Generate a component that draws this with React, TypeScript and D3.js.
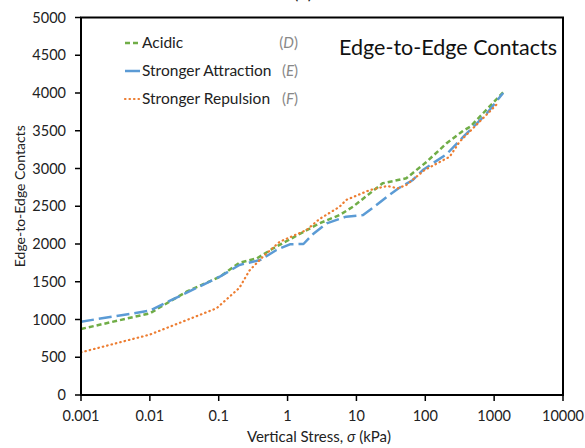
import React from "react";
import * as d3 from "d3";

const acidicStress = [0.001, 0.01, 0.034, 0.104, 0.2, 0.36, 0.62, 1.08, 2.9, 5.7, 8.9, 24, 53, 105, 204, 340, 450, 1350];
const acidicValues = [874, 1082, 1368, 1567, 1752, 1810, 1943, 2062, 2274, 2384, 2494, 2804, 2870, 3090, 3334, 3488, 3554, 4009];

const attractionStress = [0.001, 0.01, 0.0197, 0.104, 0.2, 0.4, 0.69, 1.08, 1.7, 2.35, 3.7, 7.1, 12.5, 17, 30, 42, 66, 92, 204, 358, 785, 1350];
const attractionValues = [971, 1117, 1249, 1567, 1722, 1788, 1921, 1996, 2000, 2132, 2274, 2362, 2384, 2473, 2649, 2745, 2848, 2980, 3190, 3421, 3731, 4000];

const repulsionStress = [0.001, 0.01, 0.093, 0.2, 0.28, 0.44, 0.77, 1.88, 2.9, 5.7, 7.1, 15.7, 28, 40, 53, 98, 226, 315, 857, 1150];
const repulsionValues = [565, 800, 1148, 1420, 1650, 1832, 2030, 2185, 2330, 2494, 2583, 2715, 2768, 2738, 2781, 2980, 3156, 3355, 3752, 3872];

const xTicks = [0.001, 0.01, 0.1, 1, 10, 100, 1000, 10000];
const xTickLabels = ["0.001", "0.01", "0.1", "1", "10", "100", "1000", "10000"];
const yTicks = [0, 500, 1000, 1500, 2000, 2500, 3000, 3500, 4000, 4500, 5000];

const seriesNames = ["Acidic", "Stronger Attraction", "Stronger Repulsion"];
const seriesTags = ["D", "E", "F"];

const FONT = "Lato, 'Open Sans', sans-serif";

export default function App() {
  const W = 585, H = 448;
  const left = 81, right = 563, top = 17.5, bottom = 395;
  const x = d3.scaleLog().domain([0.001, 10000]).range([left, right]);
  const y = d3.scaleLinear().domain([0, 5000]).range([bottom, top]);
  const line = d3.line<[number, number]>().x(d => x(d[0])).y(d => y(d[1]));

  const series = [
    { s: acidicStress, v: acidicValues, color: "#70AD47", dash: "5,3", cap: "butt", w: 2.5 },
    { s: attractionStress, v: attractionValues, color: "#5B9BD5", dash: "13,5", cap: "butt", w: 2.5 },
    { s: repulsionStress, v: repulsionValues, color: "#ED7D31", dash: "0.5,4", cap: "round", w: 2.2 },
  ];

  return (
    <svg width={W} height={H} style={{ position: "absolute", left: 0, top: 0 }} fontFamily={FONT}>
      <rect x={0} y={0} width={W} height={H} fill="#fff" />
      <text x={303} y={-1} textAnchor="middle" fontSize={18} fill="#222">(b)</text>
      {series.map((sr, i) => (
        <path
          key={i}
          d={line(sr.s.map((s, j) => [s, sr.v[j]] as [number, number])) || ""}
          fill="none"
          stroke={sr.color}
          strokeWidth={sr.w}
          strokeDasharray={sr.dash}
          strokeLinecap={sr.cap as any}
          strokeLinejoin="round"
        />
      ))}
      <rect x={left} y={top} width={right - left} height={bottom - top} fill="none" stroke="#000" strokeWidth={2} />
      {yTicks.map(t => (
        <g key={t}>
          <line x1={left - 6} x2={left} y1={y(t)} y2={y(t)} stroke="#000" strokeWidth={1.5} />
          <text x={left - 15} y={y(t)} dy="0.35em" textAnchor="end" fontSize={14.5} fill="#222">{t}</text>
        </g>
      ))}
      {xTicks.map((t, i) => (
        <g key={t}>
          <line x1={x(t)} x2={x(t)} y1={bottom} y2={bottom + 6} stroke="#000" strokeWidth={1.5} />
          <text x={x(t)} y={416} dy="0.35em" textAnchor="middle" fontSize={14.5} fill="#222">{xTickLabels[i]}</text>
        </g>
      ))}
      <text x={319} y={437} dy="0.35em" textAnchor="middle" fontSize={15} fill="#222">
        Vertical Stress, <tspan fontStyle="italic">σ</tspan> (kPa)
      </text>
      <text transform={`translate(20,${(top + bottom) / 2 - 10}) rotate(-90)`} dy="0.35em" textAnchor="middle" fontSize={14} fill="#222">
        Edge-to-Edge Contacts
      </text>
      <text x={557} y={47.5} dy="0.35em" textAnchor="end" fontSize={21.5} fill="#111">Edge-to-Edge Contacts</text>
      {seriesNames.map((n, i) => {
        const ly = 43 + i * 28;
        const sr = series[i];
        return (
          <g key={n}>
            <line x1={125} x2={140} y1={ly} y2={ly} stroke={sr.color} strokeWidth={sr.w}
              strokeDasharray={i === 0 ? "5,3" : i === 1 ? "" : "0.5,4"} strokeLinecap={sr.cap as any} />
            <text x={142} y={ly} dy="0.35em" fontSize={15.5} fill="#222">{n}</text>
            <text x={298} y={ly} dy="0.35em" textAnchor="end" fontSize={15} fill="#888">
              (<tspan fontStyle="italic">{seriesTags[i]}</tspan>)
            </text>
          </g>
        );
      })}
    </svg>
  );
}
